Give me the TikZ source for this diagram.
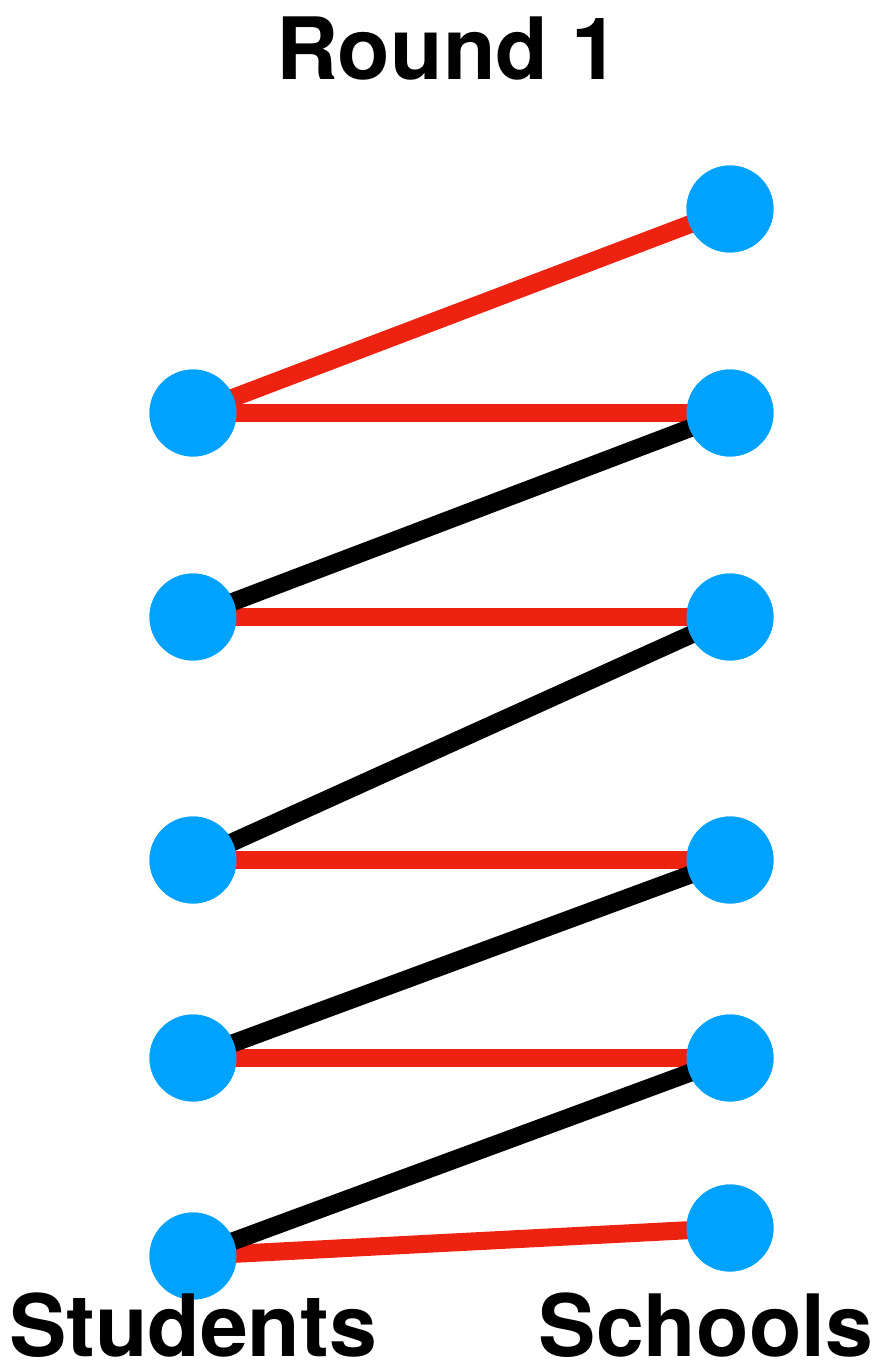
\documentclass[tikz,border=0pt]{standalone}
\usepackage{fontspec}
\setmainfont{TeX Gyre Heros}
\definecolor{nodeblue}{HTML}{00A2FF}
\definecolor{edgered}{HTML}{EE2211}
\begin{document}
\begin{tikzpicture}[x=1pt,y=-1pt,
  vert/.style={circle,fill=nodeblue,minimum size=87pt,inner sep=0pt},
  redge/.style={draw=edgered,line width=18pt},
  bedge/.style={draw=black,line width=18pt},
  lbl/.style={font=\bfseries\fontsize{86}{90}\selectfont,inner sep=0pt,anchor=base}]
\useasboundingbox (0,0) rectangle (875,1372);
\node[vert] (L1) at (193,413) {};
\node[vert] (L2) at (193,617) {};
\node[vert] (L3) at (193,860) {};
\node[vert] (L4) at (193,1058) {};
\node[vert] (L5) at (193,1256) {};
\node[vert] (R1) at (730,209) {};
\node[vert] (R2) at (730,413) {};
\node[vert] (R3) at (730,617) {};
\node[vert] (R4) at (730,860) {};
\node[vert] (R5) at (730,1058) {};
\node[vert] (R6) at (730,1228) {};
\path[redge] (L1.center) -- (R1.center);
\path[redge] (L1.center) -- (R2.center);
\path[redge] (L2.center) -- (R3.center);
\path[redge] (L3.center) -- (R4.center);
\path[redge] (L4.center) -- (R5.center);
\path[redge] (L5.center) -- (R6.center);
\path[bedge] (L2.center) -- (R2.center);
\path[bedge] (L3.center) -- (R3.center);
\path[bedge] (L4.center) -- (R4.center);
\path[bedge] (L5.center) -- (R5.center);
\foreach \n in {L1,L2,L3,L4,L5,R1,R2,R3,R4,R5,R6}
  \fill[nodeblue] (\n.center) circle (43.5pt);
\node[lbl] (title) at (448,80) {Round 1};
\node[lbl] (stud) at (193,1356) {Students};
\node[lbl] (sch) at (706,1356) {Schools};
\end{tikzpicture}
\end{document}
